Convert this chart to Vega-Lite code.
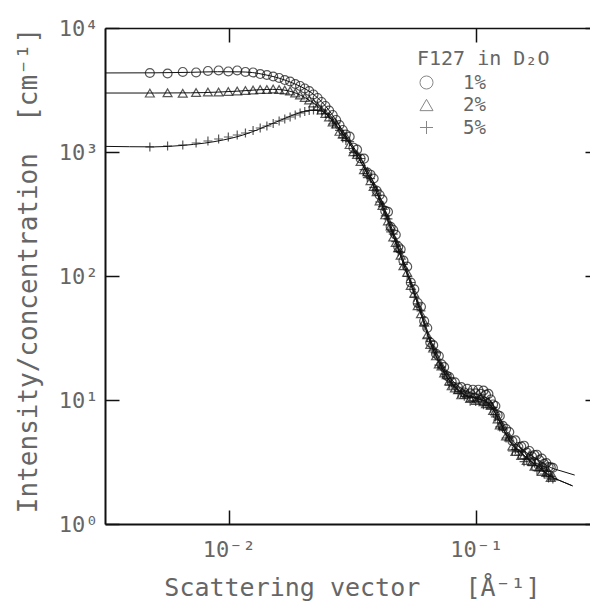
{
  "$schema": "https://vega.github.io/schema/vega-lite/v6.json",
  "width": 485,
  "height": 496,
  "autosize": {"type": "none"},
  "padding": {"left": 105, "top": 28, "right": 0, "bottom": 80},
  "background": "white",
  "config": {
    "view": {"stroke": null},
    "font": "DejaVu Sans Mono",
    "axis": {
      "grid": false,
      "labelFont": "DejaVu Sans Mono",
      "titleFont": "DejaVu Sans Mono",
      "labelFontSize": 22,
      "titleFontSize": 26,
      "labelColor": "#666",
      "titleColor": "#666",
      "labelFontWeight": "normal",
      "titleFontWeight": "normal",
      "domainColor": "#111",
      "tickColor": "#111",
      "tickWidth": 1.5,
      "labelFlush": false,
      "labelOverlap": false,
      "labelBound": false
    },
    "legend": {
      "labelFont": "DejaVu Sans Mono",
      "titleFont": "DejaVu Sans Mono"
    }
  },
  "datasets": {
    "pts": [
      {"c":"1%","q":0.0048,"i":4336},{"c":"1%","q":0.00566,"i":4296},{"c":"1%","q":0.00652,"i":4419},{"c":"1%","q":0.00738,"i":4377},{"c":"1%","q":0.00824,"i":4501},{"c":"1%","q":0.0091,"i":4543},{"c":"1%","q":0.00996,"i":4459},{"c":"1%","q":0.01082,"i":4543},{"c":"1%","q":0.01168,"i":4419},{"c":"1%","q":0.01254,"i":4377},
      {"c":"1%","q":0.0134,"i":4256},{"c":"1%","q":0.01426,"i":4178},{"c":"1%","q":0.01512,"i":4063},{"c":"1%","q":0.01598,"i":3952},{"c":"1%","q":0.01684,"i":3807},{"c":"1%","q":0.0177,"i":3703},{"c":"1%","q":0.01856,"i":3535},{"c":"1%","q":0.01942,"i":3407},{"c":"1%","q":0.02028,"i":3252},{"c":"1%","q":0.02114,"i":3104},
      {"c":"1%","q":0.022,"i":2909},{"c":"1%","q":0.02286,"i":2726},{"c":"1%","q":0.02372,"i":2531},{"c":"1%","q":0.02458,"i":2350},{"c":"1%","q":0.02544,"i":2161},{"c":"1%","q":0.0263,"i":1988},{"c":"1%","q":0.02716,"i":1812},{"c":"1%","q":0.02802,"i":1651},{"c":"1%","q":0.02888,"i":1505},{"c":"1%","q":0.02974,"i":1384},
      {"c":"1%","q":0.0308,"i":1330},{"c":"1%","q":0.0319,"i":1083},{"c":"1%","q":0.033,"i":1045},{"c":"1%","q":0.0341,"i":886},{"c":"1%","q":0.0352,"i":884},{"c":"1%","q":0.0363,"i":682},{"c":"1%","q":0.0374,"i":656},{"c":"1%","q":0.0385,"i":611},{"c":"1%","q":0.0396,"i":487},{"c":"1%","q":0.0407,"i":450},
      {"c":"1%","q":0.0418,"i":413},{"c":"1%","q":0.0429,"i":335},{"c":"1%","q":0.044,"i":329},{"c":"1%","q":0.0451,"i":249},{"c":"1%","q":0.0462,"i":235},{"c":"1%","q":0.0473,"i":215},{"c":"1%","q":0.0484,"i":172},{"c":"1%","q":0.0495,"i":164},{"c":"1%","q":0.0508,"i":133},{"c":"1%","q":0.0526,"i":119},
      {"c":"1%","q":0.0544,"i":88.6},{"c":"1%","q":0.0562,"i":78.1},{"c":"1%","q":0.058,"i":60.8},{"c":"1%","q":0.0598,"i":56.5},{"c":"1%","q":0.0616,"i":43.3},{"c":"1%","q":0.0634,"i":38.1},{"c":"1%","q":0.0652,"i":29.1},{"c":"1%","q":0.067,"i":27.7},{"c":"1%","q":0.0688,"i":23.6},{"c":"1%","q":0.0706,"i":22.6},
      {"c":"1%","q":0.0724,"i":19.4},{"c":"1%","q":0.0742,"i":18.4},{"c":"1%","q":0.076,"i":15.7},{"c":"1%","q":0.0778,"i":15.3},{"c":"1%","q":0.0796,"i":14.0},{"c":"1%","q":0.082,"i":13.9},{"c":"1%","q":0.0845,"i":12.6},{"c":"1%","q":0.087,"i":12.7},{"c":"1%","q":0.0895,"i":11.5},{"c":"1%","q":0.092,"i":12.3},
      {"c":"1%","q":0.0945,"i":11.3},{"c":"1%","q":0.097,"i":12.1},{"c":"1%","q":0.0995,"i":11.3},{"c":"1%","q":0.102,"i":12.1},{"c":"1%","q":0.1045,"i":11.2},{"c":"1%","q":0.107,"i":11.9},{"c":"1%","q":0.1095,"i":11.0},{"c":"1%","q":0.112,"i":11.2},{"c":"1%","q":0.1145,"i":10.1},{"c":"1%","q":0.117,"i":9.2},
      {"c":"1%","q":0.1195,"i":8.95},{"c":"1%","q":0.122,"i":7.57},{"c":"1%","q":0.1245,"i":7.43},{"c":"1%","q":0.128,"i":6.18},{"c":"1%","q":0.132,"i":5.84},{"c":"1%","q":0.136,"i":5.52},{"c":"1%","q":0.14,"i":4.67},{"c":"1%","q":0.144,"i":4.72},{"c":"1%","q":0.148,"i":4.18},{"c":"1%","q":0.152,"i":4.21},
      {"c":"1%","q":0.156,"i":4.28},{"c":"1%","q":0.16,"i":3.77},{"c":"1%","q":0.164,"i":3.88},{"c":"1%","q":0.168,"i":3.5},{"c":"1%","q":0.172,"i":3.59},{"c":"1%","q":0.176,"i":3.62},{"c":"1%","q":0.18,"i":3.27},{"c":"1%","q":0.184,"i":3.37},{"c":"1%","q":0.188,"i":3.05},{"c":"1%","q":0.192,"i":3.1},
      {"c":"1%","q":0.196,"i":2.88},{"c":"1%","q":0.2,"i":2.86},{"c":"1%","q":0.204,"i":2.84},

      {"c":"2%","q":0.0048,"i":2985},{"c":"2%","q":0.00566,"i":3005},{"c":"2%","q":0.00652,"i":2975},{"c":"2%","q":0.00738,"i":3019},{"c":"2%","q":0.00824,"i":3048},{"c":"2%","q":0.0091,"i":3048},{"c":"2%","q":0.00996,"i":3076},{"c":"2%","q":0.01082,"i":3104},{"c":"2%","q":0.01168,"i":3133},{"c":"2%","q":0.01254,"i":3162},
      {"c":"2%","q":0.0134,"i":3192},{"c":"2%","q":0.01426,"i":3192},{"c":"2%","q":0.01512,"i":3222},{"c":"2%","q":0.01598,"i":3192},{"c":"2%","q":0.01684,"i":3162},{"c":"2%","q":0.0177,"i":3104},{"c":"2%","q":0.01856,"i":2991},{"c":"2%","q":0.01942,"i":2883},{"c":"2%","q":0.02028,"i":2751},{"c":"2%","q":0.02114,"i":2626},
      {"c":"2%","q":0.022,"i":2485},{"c":"2%","q":0.02286,"i":2328},{"c":"2%","q":0.02372,"i":2182},{"c":"2%","q":0.02458,"i":2044},{"c":"2%","q":0.02544,"i":1916},{"c":"2%","q":0.0263,"i":1746},{"c":"2%","q":0.02716,"i":1682},{"c":"2%","q":0.02802,"i":1466},{"c":"2%","q":0.02888,"i":1397},{"c":"2%","q":0.02974,"i":1334},
      {"c":"2%","q":0.0308,"i":1147},{"c":"2%","q":0.0319,"i":1004},{"c":"2%","q":0.033,"i":953},{"c":"2%","q":0.0341,"i":838},{"c":"2%","q":0.0352,"i":720},{"c":"2%","q":0.0363,"i":694},{"c":"2%","q":0.0374,"i":587},{"c":"2%","q":0.0385,"i":527},{"c":"2%","q":0.0396,"i":478},{"c":"2%","q":0.0407,"i":403},
      {"c":"2%","q":0.0418,"i":370},{"c":"2%","q":0.0429,"i":311},{"c":"2%","q":0.044,"i":278},{"c":"2%","q":0.0451,"i":253},{"c":"2%","q":0.0462,"i":206},{"c":"2%","q":0.0473,"i":186},{"c":"2%","q":0.0484,"i":169},{"c":"2%","q":0.0495,"i":147},{"c":"2%","q":0.0508,"i":121},{"c":"2%","q":0.0526,"i":107},
      {"c":"2%","q":0.0544,"i":83.9},{"c":"2%","q":0.0562,"i":72.6},{"c":"2%","q":0.058,"i":57.5},{"c":"2%","q":0.0598,"i":49.6},{"c":"2%","q":0.0616,"i":42.6},{"c":"2%","q":0.0634,"i":33.5},{"c":"2%","q":0.0652,"i":28.0},{"c":"2%","q":0.067,"i":26.2},{"c":"2%","q":0.0688,"i":22.7},{"c":"2%","q":0.0706,"i":19.5},
      {"c":"2%","q":0.0724,"i":18.8},{"c":"2%","q":0.0742,"i":16.5},{"c":"2%","q":0.076,"i":16.0},{"c":"2%","q":0.0778,"i":14.2},{"c":"2%","q":0.0796,"i":13.0},{"c":"2%","q":0.082,"i":12.5},{"c":"2%","q":0.0845,"i":12.1},{"c":"2%","q":0.087,"i":11.0},{"c":"2%","q":0.0895,"i":11.1},{"c":"2%","q":0.092,"i":11.2},
      {"c":"2%","q":0.0945,"i":10.3},{"c":"2%","q":0.097,"i":10.6},{"c":"2%","q":0.0995,"i":9.92},{"c":"2%","q":0.102,"i":10.2},{"c":"2%","q":0.1045,"i":10.4},{"c":"2%","q":0.107,"i":9.69},{"c":"2%","q":0.1095,"i":9.33},{"c":"2%","q":0.112,"i":9.69},{"c":"2%","q":0.1145,"i":9.04},{"c":"2%","q":0.117,"i":8.22},
      {"c":"2%","q":0.1195,"i":8.16},{"c":"2%","q":0.122,"i":7.03},{"c":"2%","q":0.1245,"i":6.29},{"c":"2%","q":0.128,"i":6.18},{"c":"2%","q":0.132,"i":5.12},{"c":"2%","q":0.136,"i":5.03},{"c":"2%","q":0.14,"i":4.26},{"c":"2%","q":0.144,"i":3.85},{"c":"2%","q":0.148,"i":4.1},{"c":"2%","q":0.152,"i":3.57},
      {"c":"2%","q":0.156,"i":3.62},{"c":"2%","q":0.16,"i":3.25},{"c":"2%","q":0.164,"i":3.6},{"c":"2%","q":0.168,"i":3.19},{"c":"2%","q":0.172,"i":2.92},{"c":"2%","q":0.176,"i":3.18},{"c":"2%","q":0.18,"i":2.88},{"c":"2%","q":0.184,"i":2.65},{"c":"2%","q":0.188,"i":2.88},{"c":"2%","q":0.192,"i":2.6},
      {"c":"2%","q":0.196,"i":2.63},{"c":"2%","q":0.2,"i":2.37},{"c":"2%","q":0.204,"i":2.44},

      {"c":"5%","q":0.0048,"i":1097},{"c":"5%","q":0.00566,"i":1118},{"c":"5%","q":0.00652,"i":1139},{"c":"5%","q":0.00738,"i":1182},{"c":"5%","q":0.00824,"i":1227},{"c":"5%","q":0.0091,"i":1273},{"c":"5%","q":0.00996,"i":1321},{"c":"5%","q":0.01082,"i":1371},{"c":"5%","q":0.01168,"i":1423},{"c":"5%","q":0.01254,"i":1491},
      {"c":"5%","q":0.0134,"i":1561},{"c":"5%","q":0.01426,"i":1621},{"c":"5%","q":0.01512,"i":1697},{"c":"5%","q":0.01598,"i":1778},{"c":"5%","q":0.01684,"i":1846},{"c":"5%","q":0.0177,"i":1916},{"c":"5%","q":0.01856,"i":1988},{"c":"5%","q":0.01942,"i":2063},{"c":"5%","q":0.02028,"i":2121},{"c":"5%","q":0.02114,"i":2161},
      {"c":"5%","q":0.022,"i":2182},{"c":"5%","q":0.02286,"i":2182},{"c":"5%","q":0.02372,"i":2141},{"c":"5%","q":0.02458,"i":2044},{"c":"5%","q":0.02544,"i":1916},{"c":"5%","q":0.0263,"i":1682},{"c":"5%","q":0.02716,"i":1714},{"c":"5%","q":0.02802,"i":1495},{"c":"5%","q":0.02888,"i":1298},{"c":"5%","q":0.02974,"i":1237},
      {"c":"5%","q":0.0308,"i":1212},{"c":"5%","q":0.0319,"i":987},{"c":"5%","q":0.033,"i":935},{"c":"5%","q":0.0341,"i":886},{"c":"5%","q":0.0352,"i":720},{"c":"5%","q":0.0363,"i":622},{"c":"5%","q":0.0374,"i":609},{"c":"5%","q":0.0385,"i":518},{"c":"5%","q":0.0396,"i":496},{"c":"5%","q":0.0407,"i":395},
      {"c":"5%","q":0.0418,"i":363},{"c":"5%","q":0.0429,"i":305},{"c":"5%","q":0.044,"i":289},{"c":"5%","q":0.0451,"i":227},{"c":"5%","q":0.0462,"i":218},{"c":"5%","q":0.0473,"i":189},{"c":"5%","q":0.0484,"i":157},{"c":"5%","q":0.0495,"i":155},{"c":"5%","q":0.0508,"i":124},{"c":"5%","q":0.0526,"i":99.2},
      {"c":"5%","q":0.0544,"i":88.6},{"c":"5%","q":0.0562,"i":67.4},{"c":"5%","q":0.058,"i":59.7},{"c":"5%","q":0.0598,"i":52.4},{"c":"5%","q":0.0616,"i":39.5},{"c":"5%","q":0.0634,"i":31.7},{"c":"5%","q":0.0652,"i":29.7},{"c":"5%","q":0.067,"i":25.2},{"c":"5%","q":0.0688,"i":24.0},{"c":"5%","q":0.0706,"i":19.1},
      {"c":"5%","q":0.0724,"i":18.4},{"c":"5%","q":0.0742,"i":16.2},{"c":"5%","q":0.076,"i":16.0},{"c":"5%","q":0.0778,"i":13.2},{"c":"5%","q":0.0796,"i":13.8},{"c":"5%","q":0.082,"i":12.5},{"c":"5%","q":0.0845,"i":11.3},{"c":"5%","q":0.087,"i":11.8},{"c":"5%","q":0.0895,"i":10.7},{"c":"5%","q":0.092,"i":10.8},
      {"c":"5%","q":0.0945,"i":9.75},{"c":"5%","q":0.097,"i":10.6},{"c":"5%","q":0.0995,"i":9.74},{"c":"5%","q":0.102,"i":10.0},{"c":"5%","q":0.1045,"i":10.4},{"c":"5%","q":0.107,"i":9.17},{"c":"5%","q":0.1095,"i":9.33},{"c":"5%","q":0.112,"i":9.51},{"c":"5%","q":0.1145,"i":8.55},{"c":"5%","q":0.117,"i":8.7},
      {"c":"5%","q":0.1195,"i":7.3},{"c":"5%","q":0.122,"i":6.9},{"c":"5%","q":0.1245,"i":6.06},{"c":"5%","q":0.128,"i":5.95},{"c":"5%","q":0.132,"i":4.94},{"c":"5%","q":0.136,"i":4.94},{"c":"5%","q":0.14,"i":3.88},{"c":"5%","q":0.144,"i":3.99},{"c":"5%","q":0.148,"i":3.6},{"c":"5%","q":0.152,"i":3.84},
      {"c":"5%","q":0.156,"i":3.18},{"c":"5%","q":0.16,"i":3.31},{"c":"5%","q":0.164,"i":3.41},{"c":"5%","q":0.168,"i":2.96},{"c":"5%","q":0.172,"i":3.09},{"c":"5%","q":0.176,"i":2.69},{"c":"5%","q":0.18,"i":2.82},{"c":"5%","q":0.184,"i":2.91},{"c":"5%","q":0.188,"i":2.53},{"c":"5%","q":0.192,"i":2.65},
      {"c":"5%","q":0.196,"i":2.35},{"c":"5%","q":0.2,"i":2.41},{"c":"5%","q":0.204,"i":2.31}
    ],
    "fit": [
      {"c":"1%","q":0.003162,"i":4340},{"c":"1%","q":0.005,"i":4350},{"c":"1%","q":0.007,"i":4390},{"c":"1%","q":0.009,"i":4440},{"c":"1%","q":0.011,"i":4430},{"c":"1%","q":0.0125,"i":4370},{"c":"1%","q":0.014,"i":4200},{"c":"1%","q":0.0155,"i":4010},{"c":"1%","q":0.017,"i":3780},{"c":"1%","q":0.0185,"i":3540},
      {"c":"1%","q":0.02,"i":3290},{"c":"1%","q":0.0215,"i":3020},{"c":"1%","q":0.023,"i":2700},{"c":"1%","q":0.0245,"i":2370},{"c":"1%","q":0.026,"i":2040},{"c":"1%","q":0.0275,"i":1730},{"c":"1%","q":0.029,"i":1460},{"c":"1%","q":0.0305,"i":1250},{"c":"1%","q":0.033,"i":990},{"c":"1%","q":0.036,"i":730},
      {"c":"1%","q":0.04,"i":477},{"c":"1%","q":0.044,"i":295},{"c":"1%","q":0.048,"i":182},{"c":"1%","q":0.052,"i":117},{"c":"1%","q":0.056,"i":77},{"c":"1%","q":0.06,"i":51.5},{"c":"1%","q":0.065,"i":31.4},{"c":"1%","q":0.07,"i":22.3},{"c":"1%","q":0.075,"i":17.1},{"c":"1%","q":0.08,"i":14.4},
      {"c":"1%","q":0.09,"i":11.9},{"c":"1%","q":0.1,"i":11.1},{"c":"1%","q":0.11,"i":10.4},{"c":"1%","q":0.115,"i":9.7},{"c":"1%","q":0.12,"i":8.4},{"c":"1%","q":0.13,"i":6.0},{"c":"1%","q":0.14,"i":4.7},{"c":"1%","q":0.15,"i":4.15},{"c":"1%","q":0.16,"i":3.75},{"c":"1%","q":0.18,"i":3.25},
      {"c":"1%","q":0.2,"i":2.85},{"c":"1%","q":0.22,"i":2.68},{"c":"1%","q":0.25,"i":2.48},

      {"c":"2%","q":0.003162,"i":2990},{"c":"2%","q":0.005,"i":2990},{"c":"2%","q":0.007,"i":3000},{"c":"2%","q":0.009,"i":3040},{"c":"2%","q":0.011,"i":3100},{"c":"2%","q":0.013,"i":3170},{"c":"2%","q":0.015,"i":3200},{"c":"2%","q":0.0165,"i":3170},{"c":"2%","q":0.018,"i":3060},{"c":"2%","q":0.0195,"i":2870},
      {"c":"2%","q":0.021,"i":2640},{"c":"2%","q":0.0225,"i":2400},{"c":"2%","q":0.024,"i":2130},{"c":"2%","q":0.0255,"i":1900},{"c":"2%","q":0.027,"i":1670},{"c":"2%","q":0.0285,"i":1450},{"c":"2%","q":0.03,"i":1270},{"c":"2%","q":0.033,"i":935},{"c":"2%","q":0.036,"i":690},{"c":"2%","q":0.04,"i":450},
      {"c":"2%","q":0.044,"i":278},{"c":"2%","q":0.048,"i":172},{"c":"2%","q":0.052,"i":110},{"c":"2%","q":0.056,"i":73},{"c":"2%","q":0.06,"i":48.6},{"c":"2%","q":0.065,"i":29.6},{"c":"2%","q":0.07,"i":21.0},{"c":"2%","q":0.075,"i":16.1},{"c":"2%","q":0.08,"i":13.4},{"c":"2%","q":0.09,"i":11.0},
      {"c":"2%","q":0.1,"i":10.3},{"c":"2%","q":0.11,"i":9.65},{"c":"2%","q":0.115,"i":8.95},{"c":"2%","q":0.12,"i":7.7},{"c":"2%","q":0.13,"i":5.6},{"c":"2%","q":0.14,"i":4.34},{"c":"2%","q":0.15,"i":3.86},{"c":"2%","q":0.16,"i":3.4},{"c":"2%","q":0.18,"i":2.85},{"c":"2%","q":0.2,"i":2.42},
      {"c":"2%","q":0.22,"i":2.22},{"c":"2%","q":0.245,"i":2.03},

      {"c":"5%","q":0.003162,"i":1110},{"c":"5%","q":0.005,"i":1100},{"c":"5%","q":0.0065,"i":1130},{"c":"5%","q":0.008,"i":1180},{"c":"5%","q":0.0095,"i":1250},{"c":"5%","q":0.011,"i":1340},{"c":"5%","q":0.0125,"i":1460},{"c":"5%","q":0.014,"i":1600},{"c":"5%","q":0.0155,"i":1740},{"c":"5%","q":0.017,"i":1880},
      {"c":"5%","q":0.0185,"i":2010},{"c":"5%","q":0.02,"i":2110},{"c":"5%","q":0.0215,"i":2170},{"c":"5%","q":0.023,"i":2160},{"c":"5%","q":0.0245,"i":2060},{"c":"5%","q":0.026,"i":1830},{"c":"5%","q":0.0275,"i":1600},{"c":"5%","q":0.029,"i":1390},{"c":"5%","q":0.0305,"i":1200},{"c":"5%","q":0.033,"i":935},
      {"c":"5%","q":0.036,"i":690},{"c":"5%","q":0.04,"i":450},{"c":"5%","q":0.044,"i":278},{"c":"5%","q":0.048,"i":172},{"c":"5%","q":0.052,"i":110},{"c":"5%","q":0.056,"i":73},{"c":"5%","q":0.06,"i":48.6},{"c":"5%","q":0.065,"i":29.6},{"c":"5%","q":0.07,"i":21.0},{"c":"5%","q":0.075,"i":16.1},
      {"c":"5%","q":0.08,"i":13.4},{"c":"5%","q":0.09,"i":11.0},{"c":"5%","q":0.1,"i":10.3},{"c":"5%","q":0.11,"i":9.65},{"c":"5%","q":0.115,"i":8.95},{"c":"5%","q":0.12,"i":7.7},{"c":"5%","q":0.13,"i":5.6},{"c":"5%","q":0.14,"i":4.34},{"c":"5%","q":0.15,"i":3.86},{"c":"5%","q":0.16,"i":3.4},
      {"c":"5%","q":0.18,"i":2.85},{"c":"5%","q":0.2,"i":2.42},{"c":"5%","q":0.22,"i":2.22},{"c":"5%","q":0.245,"i":2.03}
    ]
  },
  "resolve": {"axis": {"x": "independent", "y": "independent"}},
  "layer": [
    {
      "data": {"name": "fit"},
      "mark": {"type": "line", "color": "#111", "strokeWidth": 1, "interpolate": "monotone", "clip": true},
      "encoding": {
        "x": {
          "field": "q", "type": "quantitative",
          "scale": {"type": "log", "domain": [0.003162, 0.2882], "nice": false},
          "axis": {
            "orient": "bottom", "values": [0.01, 0.1],
            "labelExpr": "datum.value < 0.05 ? '10⁻²' : '10⁻¹'",
            "tickSize": -14, "labelPadding": 29, "domainWidth": 2,
            "title": "Scattering vector\u00a0\u00a0\u00a0[Å⁻¹]", "titleFontSize": 25,
            "titleX": 247, "titleY": 71, "titleBaseline": "alphabetic", "titleAnchor": "middle", "titleAlign": "center"
          }
        },
        "y": {
          "field": "i", "type": "quantitative",
          "scale": {"type": "log", "domain": [1, 10000], "nice": false},
          "axis": {
            "orient": "left", "values": [1, 10, 100, 1000, 10000],
            "labelExpr": "datum.value < 5 ? '10⁰' : datum.value < 50 ? '10¹' : datum.value < 500 ? '10²' : datum.value < 5000 ? '10³' : '10⁴'",
            "tickSize": -14, "labelPadding": 21, "domainWidth": 2,
            "title": "Intensity/concentration\u00a0\u00a0[cm⁻¹]",
            "titleX": -69, "titleY": 242, "titleBaseline": "alphabetic", "titleAngle": 270, "titleAlign": "center"
          }
        },
        "detail": {"field": "c"}
      }
    },
    {
      "data": {"name": "pts"},
      "mark": {"type": "point", "filled": false, "color": "#111", "strokeWidth": 1.2, "size": 80, "clip": true},
      "encoding": {
        "x": {
          "field": "q", "type": "quantitative",
          "axis": {"orient": "top", "values": [0.01, 0.1], "labels": false, "title": null, "tickSize": -14, "domainWidth": 1.5}
        },
        "y": {
          "field": "i", "type": "quantitative",
          "axis": {"orient": "right", "values": [1, 10, 100, 1000, 10000], "labels": false, "title": null, "tickSize": -5, "domain": false}
        },
        "shape": {
          "field": "c", "type": "nominal",
          "scale": {"domain": ["1%", "2%", "5%"], "range": ["circle", "triangle-up", "M-1,0H1M0,-1V1"]},
          "legend": {
            "orient": "none", "legendX": 312, "legendY": 21,
            "title": "F127 in D₂O", "titleFontSize": 20, "titleFontWeight": "normal", "titleColor": "#666", "titlePadding": 4,
            "labelFontSize": 19, "labelColor": "#666", "labelOffset": 27,
            "symbolSize": 170, "symbolStrokeWidth": 1, "symbolStrokeColor": "#555", "rowPadding": 2.5
          }
        }
      }
    }
  ]
}
